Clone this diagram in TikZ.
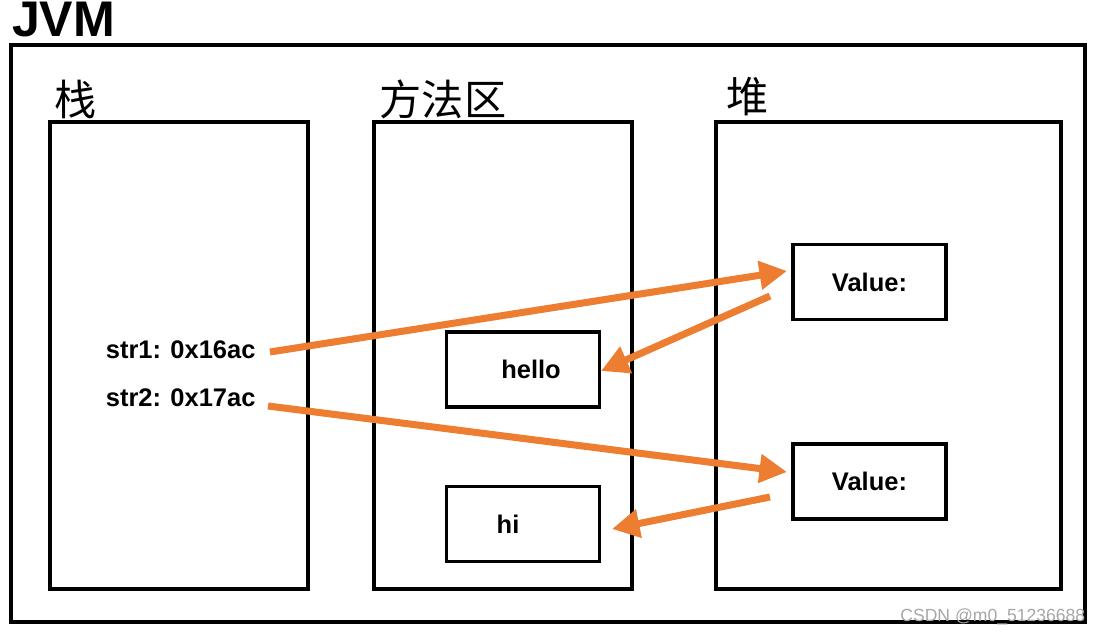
\documentclass[tikz,border=0pt]{standalone}
\usepackage{fontspec}
\setmainfont{Liberation Sans}
\newfontfamily\cjk{Noto Sans CJK SC}
\usetikzlibrary{arrows.meta}
\definecolor{jvmorange}{HTML}{ED7D31}

\begin{document}
\begin{tikzpicture}[x=0.02cm, y=-0.02cm,
  every node/.style={outer sep=0pt},
  area/.style={draw, line width=2.2pt, minimum height=9.34cm},
  cell/.style={draw, line width=2.2pt, minimum width=3.06cm, minimum height=1.5cm, font=\fontsize{14.5}{16}\selectfont\bfseries},
  zone/.style={font=\fontsize{24}{28}\selectfont\cjk},
  ref/.style={font=\fontsize{14.5}{16}\selectfont\bfseries, anchor=west},
  link/.style={jvmorange, line width=4pt, -{Triangle[length=0.55cm, width=0.55cm]}}]
\useasboundingbox (0,0) rectangle (1103,636);

\node[font=\fontsize{28.5}{30}\selectfont\bfseries, anchor=west, inner sep=0pt] (jvm) at (12,20) {JVM};
\node[draw, line width=2.2pt, minimum width=21.48cm, minimum height=11.54cm] (outer) at (548,333.5) {};

\node[area, minimum width=5.16cm] (stack) at (179,355.5) {};
\node[area, minimum width=5.16cm] (method) at (503,355.5) {};
\node[area, minimum width=6.9cm] (heap) at (888.5,355.5) {};

\node[zone] (stacklbl) at (76,99) {栈};
\node[zone] (methodlbl) at (443,99) {方法区};
\node[zone] (heaplbl) at (748,97) {堆};

\node[cell] (val1) at (869.5,282) {\raisebox{-0.08cm}{Value:}};
\node[cell] (val2) at (869.5,481.5) {\raisebox{-0.08cm}{Value:}};
\node[cell] (hello) at (523,369.5) {\kern0.32cm hello};
\node[cell] (hi) at (523,524) {hi\kern0.6cm};

\node[ref] (str1) at (100,350) {str1: 0x16ac};
\node[ref] (str2) at (100,398) {str2: 0x17ac};

\coordinate (t1) at (270,352);
\coordinate (h1) at (787,271);
\coordinate (t2) at (770,296);
\coordinate (h2) at (601,371);
\coordinate (t3) at (268,406);
\coordinate (h3) at (787,472);
\coordinate (t4) at (770,497);
\coordinate (h4) at (612,529);

\draw[link] (t1) -- (h1);
\draw[link] (t2) -- (h2);
\draw[link] (t3) -- (h3);
\draw[link] (t4) -- (h4);

\node[text=gray!70, font=\fontsize{10}{12}\selectfont, anchor=east, inner sep=1pt] (mark) at (1087,617) {CSDN @m0\_51236688};
\end{tikzpicture}
\end{document}
